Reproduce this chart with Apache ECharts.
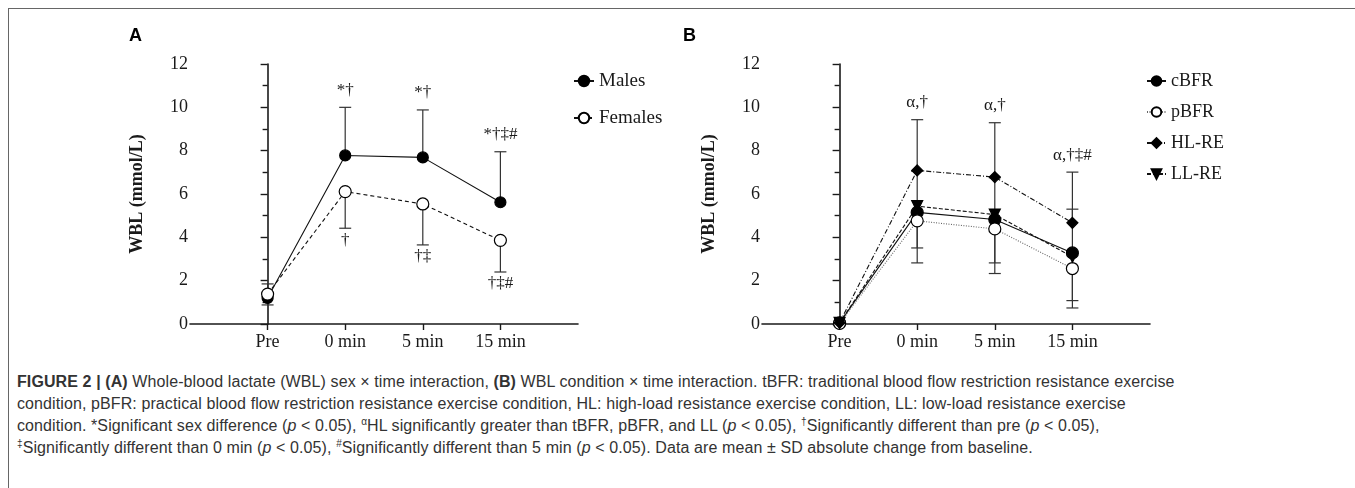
<!DOCTYPE html>
<html>
<head>
<meta charset="utf-8">
<script src="https://cdn.jsdelivr.net/npm/echarts@6/dist/echarts.min.js"></script>
<style>
  html, body { margin: 0; padding: 0; background: #fff; }
  #frame { position: absolute; left: 8px; top: 8px; width: 1347px; height: 480px;
           border-top: 1.5px solid #666; border-left: 1.5px solid #666; }
  #chart { position: absolute; left: 0; top: 0; width: 1355px; height: 370px; }
  #caption { position: absolute; left: 17px; top: 371px; font-family: "Liberation Sans", Arial, sans-serif;
             font-size: 16px; line-height: 22px; color: #333; white-space: nowrap; letter-spacing: 0.1px; }
  #caption sup { font-size: 10px; vertical-align: 6px; line-height: 0; }
</style>
</head>
<body>
<div id="frame"></div>
<div id="chart"></div>
<div id="caption">
<b>FIGURE 2 | (A)</b> Whole-blood lactate (WBL) sex × time interaction, <b>(B)</b> WBL condition × time interaction. tBFR: traditional blood flow restriction resistance exercise<br>
condition, pBFR: practical blood flow restriction resistance exercise condition, HL: high-load resistance exercise condition, LL: low-load resistance exercise<br>
condition. *Significant sex difference (<i>p</i> &lt; 0.05), <sup>α</sup>HL significantly greater than tBFR, pBFR, and LL (<i>p</i> &lt; 0.05), <sup>†</sup>Significantly different than pre (<i>p</i> &lt; 0.05),<br>
<sup>‡</sup>Significantly different than 0 min (<i>p</i> &lt; 0.05), <sup>#</sup>Significantly different than 5 min (<i>p</i> &lt; 0.05). Data are mean ± SD absolute change from baseline.
</div>
<script>
// time points (x index 0..3)
const timePoints = ['Pre', '0 min', '5 min', '15 min'];
const xIdx = [0, 1, 2, 3];
const yTicks = [0, 2, 4, 6, 8, 10, 12];

// panel A: sex x time
const males = [1.2, 7.78, 7.69, 5.62];
const malesErrEnd = [1.85, 10.0, 9.88, 7.95];
const malesMarks = ['', '*†', '*†', '*†‡#'];
const females = [1.38, 6.11, 5.54, 3.86];
const femalesErrEnd = [0.88, 4.42, 3.65, 2.40];
const femalesMarks = ['', '†', '†‡', '†‡#'];

// panel B: condition x time
const cBFR = [0.05, 5.15, 4.82, 3.28];
const cBFRErrEnd = [null, 7.05, 6.75, 5.30];
const pBFR = [0.03, 4.76, 4.39, 2.56];
const pBFRErrEnd = [null, 2.82, 2.33, 0.74];
const hlRE = [0.06, 7.09, 6.78, 4.67];
const hlREErrEnd = [null, 9.43, 9.29, 7.01];
const hlREMarks = ['', 'α,†', 'α,†', 'α,†‡#'];
const llRE = [0.05, 5.44, 5.05, 3.10];
const llREErrEnd = [null, 3.51, 2.82, 1.08];

const serif = '"Liberation Serif", "Times New Roman", serif';
const ink = '#1a1a1a';

const pairs = vals => vals.map((v, i) => [xIdx[i], v]);
const errData = (means, ends) => means.map((m, i) => [xIdx[i], m, ends[i]]);

function errRender(marks, up) {
  return function (params, api) {
    const x = api.value(0), m = api.value(1), e = api.value(2);
    if (e == null || isNaN(e)) return;
    const p0 = api.coord([x, m]);
    const p1 = api.coord([x, e]);
    const st = { stroke: '#333', lineWidth: 1.2 };
    const kids = [
      { type: 'line', shape: { x1: p0[0], y1: p0[1], x2: p1[0], y2: p1[1] }, style: st },
      { type: 'line', shape: { x1: p1[0] - 6, y1: p1[1], x2: p1[0] + 6, y2: p1[1] }, style: st }
    ];
    const t = marks && marks[params.dataIndex];
    if (t) {
      kids.push({
        type: 'text',
        x: p1[0], y: p1[1] + (up ? -17 : 12),
        style: { text: t, font: '17px ' + serif, fill: ink, align: 'center', verticalAlign: 'middle' }
      });
    }
    return { type: 'group', children: kids };
  };
}

function errSeries(idx, means, ends, marks, up) {
  return {
    type: 'custom', xAxisIndex: idx, yAxisIndex: idx, z: 1, silent: true,
    renderItem: errRender(marks, up),
    encode: { x: 0, y: [1, 2] },
    data: errData(means, ends)
  };
}

function lineSeries(idx, name, vals, symbol, size, fill, lineStyle, rotate) {
  return {
    type: 'line', name: name, xAxisIndex: idx, yAxisIndex: idx, z: 3,
    data: pairs(vals), symbol: symbol, symbolSize: size, symbolRotate: rotate || 0,
    showAllSymbol: true, clip: false,
    itemStyle: { color: fill, borderColor: '#000', borderWidth: 1.2, opacity: 1 },
    lineStyle: Object.assign({ color: '#111', width: 1.1 }, lineStyle)
  };
}

function xAxis(idx) {
  return {
    type: 'value', gridIndex: idx, min: -1, max: 4,
    axisLine: { show: true, lineStyle: { color: ink, width: 1.6 } },
    axisTick: { show: true, customValues: xIdx, length: 6, lineStyle: { color: ink, width: 1.4 } },
    axisLabel: {
      customValues: xIdx, margin: 9, fontFamily: serif, fontSize: 18, color: ink,
      formatter: v => timePoints[Math.round(v)]
    },
    splitLine: { show: false }
  };
}

function yAxis(idx) {
  return {
    type: 'value', gridIndex: idx, min: 0, max: 12, interval: 2,
    name: 'WBL (mmol/L)', nameLocation: 'middle', nameGap: 44, nameRotate: 90,
    nameTextStyle: { fontFamily: serif, fontSize: 18, fontWeight: 'bold', color: ink },
    axisLine: { show: true, lineStyle: { color: ink, width: 1.6 } },
    axisTick: { show: true, customValues: yTicks, length: 7, lineStyle: { color: ink, width: 1.4 } },
    minorTick: { show: true, splitNumber: 2, length: 5, lineStyle: { color: ink, width: 1.4 } },
    axisLabel: { margin: 2, fontFamily: serif, fontSize: 18, color: ink },
    splitLine: { show: false }
  };
}

const chart = echarts.init(document.getElementById('chart'), null, { renderer: 'canvas' });
chart.setOption({
  animation: false,
  backgroundColor: 'transparent',
  grid: [
    { left: 190, top: 64, width: 388, height: 260 },
    { left: 762, top: 64, width: 388, height: 260 }
  ],
  xAxis: [xAxis(0), xAxis(1)],
  yAxis: [yAxis(0), yAxis(1)],
  legend: [
    {
      orient: 'vertical', left: 568, top: 66, itemWidth: 20, itemHeight: 13, itemGap: 17,
      data: ['Males', 'Females'],
      textStyle: { fontFamily: serif, fontSize: 19, color: ink, lineHeight: 20, padding: 0 }
    },
    {
      orient: 'vertical', left: 1141, top: 66, itemWidth: 19, itemHeight: 12, itemGap: 11,
      data: ['cBFR', 'pBFR', 'HL-RE', 'LL-RE'],
      textStyle: { fontFamily: serif, fontSize: 18, color: ink, lineHeight: 20, padding: 0 }
    }
  ],
  graphic: [
    { type: 'text', left: 129, top: 27, style: { text: 'A', font: 'bold 18px "Liberation Sans", Arial', fill: '#000' } },
    { type: 'text', left: 683, top: 27, style: { text: 'B', font: 'bold 18px "Liberation Sans", Arial', fill: '#000' } }
  ],
  series: [
    errSeries(0, males, malesErrEnd, malesMarks, true),
    errSeries(0, females, femalesErrEnd, femalesMarks, false),
    lineSeries(0, 'Males', males, 'circle', 11, '#000', { type: 'solid' }),
    lineSeries(0, 'Females', females, 'circle', 12, '#fff', { type: [4, 3] }),

    errSeries(1, hlRE, hlREErrEnd, hlREMarks, true),
    errSeries(1, cBFR, cBFRErrEnd, null, true),
    errSeries(1, llRE, llREErrEnd, null, false),
    errSeries(1, pBFR, pBFRErrEnd, null, false),
    lineSeries(1, 'cBFR', cBFR, 'circle', 12, '#000', { type: 'solid' }),
    lineSeries(1, 'pBFR', pBFR, 'circle', 12, '#fff', { type: [1, 1.5], color: '#666' }),
    lineSeries(1, 'HL-RE', hlRE, 'diamond', 11, '#000', { type: [5, 2, 1, 2] }),
    lineSeries(1, 'LL-RE', llRE, 'triangle', 11, '#000', { type: [4, 2] }, 180)
  ]
});
</script>
</body>
</html>
